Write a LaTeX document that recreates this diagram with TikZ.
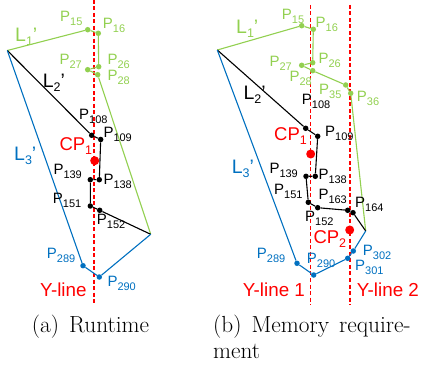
\documentclass[tikz,border=0pt]{standalone}
\usepackage{fontspec}
\usepackage{xcolor}
\usepackage{tikz}
\usetikzlibrary{positioning}
\newfontfamily\rotulofonte{Liberation Sans}
\definecolor{verde}{RGB}{146,208,80}
\definecolor{azul}{RGB}{0,112,192}
\definecolor{vermelho}{RGB}{255,0,0}
\newcommand\idx[2][11]{\raisebox{-4pt}{\fontsize{#1}{#1}\selectfont #2}}
\tikzset{
    ponto/.style={circle, fill, inner sep=0pt, minimum size=5.5pt},
    pontoCP/.style={circle, fill=vermelho, inner sep=0pt, minimum size=9pt},
    rotulo/.style={
        anchor=base west,
        inner sep=0pt,
        font=\rotulofonte\fontsize{15}{16}\selectfont
    },
    rotuloGrande/.style={rotulo, font=\rotulofonte\fontsize{19.5}{20}\selectfont},
    rotuloY/.style={rotulo, vermelho, font=\rotulofonte\fontsize{18.8}{19}\selectfont},
    linhaY/.style={draw=vermelho, line width=1.2pt, dash pattern=on 4pt off 2.5pt},
    trecho/.style={line width=1.1pt, line join=round},
    legenda/.style={
        anchor=north west,
        inner sep=0pt,
        align=left,
        font={\fontsize{23.3}{26}\selectfont\spaceskip=0.43em\relax}
    }
}

\begin{document}
\begin{tikzpicture}[x=1pt, y=-1pt]
    \useasboundingbox (0,0) rectangle (431,374);
    % (a) Runtime
    \coordinate (lvA) at (7.3,50.5);
    \coordinate (rvA) at (150.7,234.3);
    \coordinate (yA1) at (94,0);
    \coordinate (yA2) at (94,303);
    \draw[linhaY] (yA1) -- (yA2);
    \node[ponto, verde] (a15) at (87.7,29.7) {};
    \node[ponto, verde] (a16) at (98.3,33.3) {};
    \node[ponto, verde] (a26) at (98.7,66.7) {};
    \node[ponto, verde] (a27) at (87.7,69.7) {};
    \node[ponto, verde] (a28) at (97.7,74.7) {};
    \node[ponto] (a108) at (91.7,135.3) {};
    \node[ponto] (a109) at (100.7,139.5) {};
    \node[ponto] (a138) at (99.3,179.7) {};
    \node[ponto] (a139) at (90.3,179.7) {};
    \node[ponto] (a151) at (90.3,206) {};
    \node[ponto] (a152) at (99.7,210.3) {};
    \node[ponto, azul] (a289) at (83,265.7) {};
    \node[ponto, azul] (a290) at (99.3,277) {};
    \node[pontoCP] (cpA1) at (94.7,160.7) {};
    \draw[trecho, verde] (lvA) -- (a15) -- (a16) -- (a26) -- (a27) -- (a28) -- (rvA);
    \draw[trecho] (lvA) -- (a108) -- (a109) -- (a138) -- (a139) -- (a151) -- (a152) -- (rvA);
    \draw[trecho, azul] (lvA) -- (a289) -- (a290) -- (rvA);
    \node[rotuloGrande, verde] (lA1) at (15,41.7) {L\idx[12.5]{1}’};
    \node[rotuloGrande] (lA2) at (42.7,87.7) {L\idx[12.5]{2}’};
    \node[rotuloGrande, azul] (lA3) at (14,160.7) {L\idx[12.5]{3}’};
    \node[rotulo, verde] (ta15) at (60,21.7) {P\idx{15}};
    \node[rotulo, verde] (ta16) at (102.7,28.3) {P\idx{16}};
    \node[rotulo, verde] (ta27) at (59.3,65) {P\idx{27}};
    \node[rotulo, verde] (ta26) at (107.3,65) {P\idx{26}};
    \node[rotulo, verde] (ta28) at (107.3,81) {P\idx{28}};
    \node[rotulo] (ta108) at (79,120) {P\idx{108}};
    \node[rotulo] (ta109) at (103.3,137.3) {P\idx{109}};
    \node[rotulo] (ta139) at (53.3,175) {P\idx{139}};
    \node[rotulo] (ta138) at (103.3,185) {P\idx{138}};
    \node[rotulo] (ta151) at (52.7,204) {P\idx{151}};
    \node[rotulo] (ta152) at (96.7,225) {P\idx{152}};
    \node[rotulo, azul] (ta289) at (46.7,258.3) {P\idx{289}};
    \node[rotulo, azul] (ta290) at (107.3,286.7) {P\idx{290}};
    \node[rotuloGrande, vermelho, font=\rotulofonte\fontsize{18.5}{19}\selectfont] (tcpA1) at (59.3,150.7) {CP\idx[12.5]{1}};
    \node[rotuloY] (tyA) at (40,296.7) {Y-line};
    % (b) Memory requirement
    \coordinate (lvB) at (217.3,50);
    \coordinate (rvB) at (365.7,231);
    \coordinate (yB1) at (310.7,5);
    \coordinate (yB2) at (310.7,305);
    \coordinate (yC1) at (350,5);
    \coordinate (yC2) at (350,305);
    \draw[linhaY] (yB1) -- (yB2);
    \draw[linhaY] (yC1) -- (yC2);
    \node[ponto, verde] (b15) at (301.7,25.7) {};
    \node[ponto, verde] (b16) at (313.3,29.3) {};
    \node[ponto, verde] (b26) at (312.7,62.7) {};
    \node[ponto, verde] (b27) at (301.7,65.3) {};
    \node[ponto, verde] (b28) at (312.7,70.7) {};
    \node[ponto, verde] (b35) at (345.7,85) {};
    \node[ponto, verde] (b36) at (350.7,93.3) {};
    \node[ponto] (b108) at (305.7,128.3) {};
    \node[ponto] (b109) at (317.7,136.3) {};
    \node[ponto] (b138) at (315.3,176.3) {};
    \node[ponto] (b139) at (306,176.3) {};
    \node[ponto] (b151) at (308.3,202.3) {};
    \node[ponto] (b152) at (317.7,207.7) {};
    \node[ponto] (b163) at (347.7,210.3) {};
    \node[ponto] (b164) at (353,212.7) {};
    \node[ponto, azul] (b289) at (297,263.3) {};
    \node[ponto, azul] (b290) at (313.7,275) {};
    \node[ponto, azul] (b301) at (347.7,258.3) {};
    \node[ponto, azul] (b302) at (353.3,251) {};
    \node[pontoCP] (cpB1) at (310.7,154) {};
    \node[pontoCP] (cpB2) at (349.7,230) {};
    \draw[trecho, verde] (lvB) -- (b15) -- (b16) -- (b26) -- (b27) -- (b28) -- (b35) -- (b36) -- (rvB);
    \draw[trecho] (lvB) -- (b108) -- (b109) -- (b138) -- (b139) -- (b151) -- (b152) -- (b163) -- (b164) -- (rvB);
    \draw[trecho, azul] (lvB) -- (b289) -- (b290) -- (b301) -- (b302) -- (rvB);
    \node[rotuloGrande, verde] (lB1) at (236,33.3) {L\idx[12.5]{1}’};
    \node[rotuloGrande] (lB2) at (243.3,100) {L\idx[12.5]{2}’};
    \node[rotuloGrande, azul] (lB3) at (231.7,173.3) {L\idx[12.5]{3}’};
    \node[rotulo, verde] (tb15) at (281.7,20) {P\idx{15}};
    \node[rotulo, verde] (tb16) at (315.5,27.3) {P\idx{16}};
    \node[rotulo, verde] (tb27) at (269.3,66.7) {P\idx{27}};
    \node[rotulo, verde] (tb26) at (318.3,63.3) {P\idx{26}};
    \node[rotulo, verde] (tb28) at (289.3,81.7) {P\idx{28}};
    \node[rotulo, verde] (tb35) at (319,95) {P\idx{35}};
    \node[rotulo, verde] (tb36) at (356.7,101.7) {P\idx{36}};
    \node[rotulo] (tb108) at (301.7,105) {P\idx{108}};
    \node[rotulo] (tb109) at (325,136.7) {P\idx{109}};
    \node[rotulo] (tb139) at (269.3,173.3) {P\idx{139}};
    \node[rotulo] (tb138) at (318.3,180) {P\idx{138}};
    \node[rotulo] (tb151) at (274,195) {P\idx{151}};
    \node[rotulo] (tb163) at (318.3,199.3) {P\idx{163}};
    \node[rotulo] (tb164) at (355,207.3) {P\idx{164}};
    \node[rotulo] (tb152) at (305,221.7) {P\idx{152}};
    \node[rotulo, azul] (tb289) at (256.7,258.3) {P\idx{289}};
    \node[rotulo, azul] (tb290) at (306.7,263.3) {P\idx{290}};
    \node[rotulo, azul] (tb302) at (362.7,255) {P\idx{302}};
    \node[rotulo, azul] (tb301) at (355,270) {P\idx{301}};
    \node[rotuloGrande, vermelho, font=\rotulofonte\fontsize{18.5}{19}\selectfont] (tcpB1) at (274,140.7) {CP\idx[12.5]{1}};
    \node[rotuloGrande, vermelho, font=\rotulofonte\fontsize{18.5}{19}\selectfont] (tcpB2) at (313.3,243.3) {CP\idx[12.5]{2}};
    \node[rotuloY] (tyB1) at (242.7,296.7) {Y-line 1};
    \node[rotuloY] (tyB2) at (356.7,296.7) {Y-line 2};
    % legendas
    \node[legenda] (capA) at (31.7,315.2) {(a) Runtime};
    \node[legenda] (capB) at (213,315.2) {(b) Memory require-\\ment};
\end{tikzpicture}
\end{document}
